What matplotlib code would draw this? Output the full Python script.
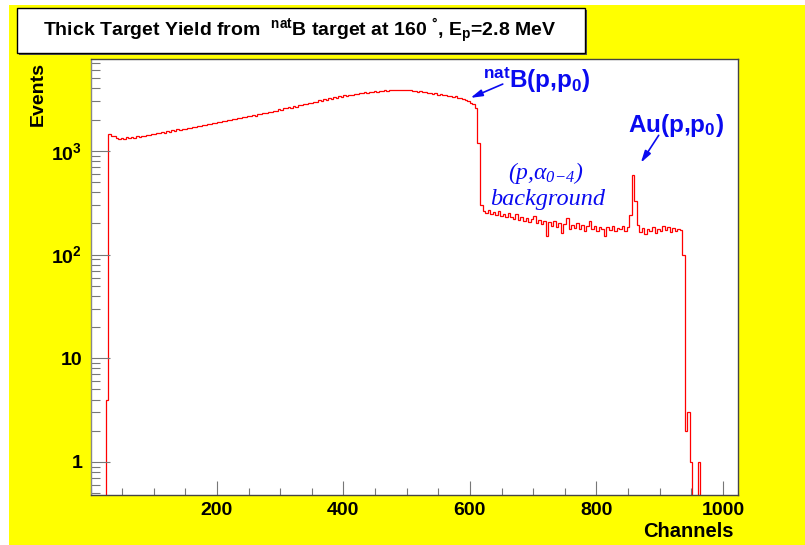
import numpy as np
import matplotlib.pyplot as plt
from matplotlib.patches import Rectangle
from matplotlib.ticker import FixedLocator, FixedFormatter, MultipleLocator, LogLocator, NullFormatter

plt.rcParams['font.family'] = ['Liberation Sans', 'DejaVu Sans']
plt.rcParams['font.weight'] = 'bold'
plt.rcParams['mathtext.fontset'] = 'custom'
plt.rcParams['mathtext.bf'] = 'Liberation Sans:bold'
plt.rcParams['mathtext.it'] = 'Liberation Serif:style=italic:weight=normal'
plt.rcParams['mathtext.rm'] = 'Liberation Serif:style=italic:weight=normal'
plt.rcParams['mathtext.default'] = 'bf'

bin_width = 4
lead_in = [0, 0, 0, 0, 0, 0, 4]
boron = [1450, 1395, 1380, 1330, 1300, 1345, 1310, 1350, 1325, 1370,
         1340, 1385, 1360, 1400, 1390, 1430, 1415, 1450, 1460, 1480,
         1475, 1515, 1500, 1550, 1530, 1585, 1560, 1610, 1595, 1640,
         1630, 1670, 1665, 1705, 1690, 1735, 1740, 1775, 1760, 1820,
         1800, 1860, 1845, 1900, 1880, 1945, 1925, 1990, 1970, 2040,
         2025, 2080, 2070, 2125, 2120, 2180, 2150, 2225, 2195, 2275,
         2280, 2330, 2310, 2395, 2385, 2450, 2440, 2520, 2505, 2580,
         2570, 2650, 2615, 2720, 2680, 2770, 2755, 2840, 2810, 2920,
         2900, 2990, 2950, 3070, 3040, 3140, 3100, 3220, 3180, 3300,
         3260, 3370, 3320, 3440, 3400, 3500, 3470, 3570, 3540, 3640,
         3600, 3690, 3650, 3740, 3700, 3790, 3740, 3820, 3770, 3860,
         3800, 3890, 3830, 3900, 3850, 3910, 3860, 3895, 3830, 3870,
         3790, 3820, 3740, 3760, 3680, 3710, 3620, 3650, 3560, 3590,
         3500, 3530, 3440, 3470, 3390, 3410, 3330, 3350, 3270, 3230,
         3180, 3100, 3030, 2930, 2820, 2620, 1200, 300]
background = [265, 250, 270, 245, 258, 240, 262, 235, 248, 228,
              252, 230, 222, 245, 215, 232, 210, 226, 205, 220,
              238, 200, 215, 196, 212, 150, 205, 190, 210, 185,
              200, 160, 198, 225, 178, 195, 182, 200, 175, 192,
              170, 188, 210, 176, 190, 168, 185, 178, 150, 186,
              172, 190, 168, 182, 175, 188, 170, 185, 240, 580,
              330, 195, 165, 182, 158, 176, 170, 185, 160, 178,
              168, 190, 172, 186, 165, 180, 170, 176, 172]
tail = [100, 2, 3, 1, 0, 0, 1, 0, 0, 0, 0, 0, 0, 0, 0, 0, 0, 0, 0, 0, 0, 0]

counts = np.array(lead_in + boron + background + tail, dtype=float)
edges = np.arange(len(counts) + 1) * bin_width

ytick_vals = [1, 10, 100, 1000]
ytick_labels = ['1', '10', r'$10^{2}$', r'$10^{3}$']

blue = '#0a0af0'

fig = plt.figure(figsize=(8.05, 5.45), dpi=100)
fig.add_artist(Rectangle((9 / 805, 0), 1 - 9 / 805, 1 - 5 / 545, transform=fig.transFigure,
                         facecolor='#ffff00', edgecolor='none', zorder=-10))

# title box with shadow
fig.add_artist(Rectangle((19 / 805, 1 - 55 / 545), 568 / 805, 45 / 545, transform=fig.transFigure,
                         facecolor='#555555', edgecolor='none'))
fig.add_artist(Rectangle((17 / 805, 1 - 53 / 545), 568 / 805, 45 / 545, transform=fig.transFigure,
                         facecolor='white', edgecolor='black', lw=1))
fig.text(300 / 805, 1 - 31 / 545,
         r'Thick Target Yield from  $^{nat}$B target at 160 $^{°}$, E$_{p}$=2.8 MeV',
         ha='center', va='center', fontsize=14)

ax = fig.add_axes([90.5 / 805, 50 / 545, 647.5 / 805, 436 / 545])
ax.set_facecolor('white')
ax.stairs(np.where(counts > 0, counts, 1e-3), edges, baseline=None, color='red', lw=0.9)

ax.set_yscale('log')
ax.set_xlim(0, 1024)
ax.set_ylim(0.48, 7700)

ax.xaxis.set_major_locator(MultipleLocator(200))
ax.xaxis.set_minor_locator(MultipleLocator(50))
ax.yaxis.set_major_locator(FixedLocator(ytick_vals))
ax.yaxis.set_major_formatter(FixedFormatter(ytick_labels))
ax.yaxis.set_minor_locator(LogLocator(subs=range(2, 10)))
ax.yaxis.set_minor_formatter(NullFormatter())
ax.set_xticks([200, 400, 600, 800, 1000])

ax.tick_params(axis='x', which='major', direction='in', length=10, width=0.8, color='#777777',
               labelsize=14, pad=5)
ax.tick_params(axis='x', which='minor', direction='in', length=5, width=0.8, color='#777777')
ax.tick_params(axis='y', which='major', direction='in', length=14, width=0.8, color='#777777',
               labelsize=14, pad=6)
ax.tick_params(axis='y', which='minor', direction='in', length=6.5, width=0.8, color='#777777')
for s in ax.spines.values():
    s.set_color('#444444')
    s.set_linewidth(1)
ax.spines['left'].set_color('#888888')

fig.text(38.5 / 805, 1 - 62 / 545, 'Events', rotation=90, ha='center', va='top', fontsize=14)
fig.text(734 / 805, 1 - 537 / 545, 'Channels', ha='right', va='baseline', fontsize=14.5)

# annotations
arrow = dict(arrowstyle='-|>,head_length=0.7,head_width=0.2', color=blue, lw=1.2)
ax.annotate('', xy=(597, 3170), xytext=(656, 4520), arrowprops=arrow)
ax.annotate('', xy=(868, 731), xytext=(901, 1489), arrowprops=arrow)
ax.text(621, 4045, r'$^{nat}$B(p,p$_{0}$)', color=blue, fontsize=17.5, ha='left', va='baseline')
ax.text(850, 1520, r'Au(p,p$_{0}$)', color=blue, fontsize=17.5, ha='left', va='baseline')
ax.text(661, 540, r'$\mathit{(p{,}\alpha_{0{-}4})}$', color=blue, fontsize=17,
        ha='left', va='baseline')
ax.text(632, 300, 'background', color=blue, fontsize=17.5, family='Liberation Serif',
        style='italic', fontweight='normal', ha='left', va='baseline')

fig.savefig('out.png', dpi=100)
